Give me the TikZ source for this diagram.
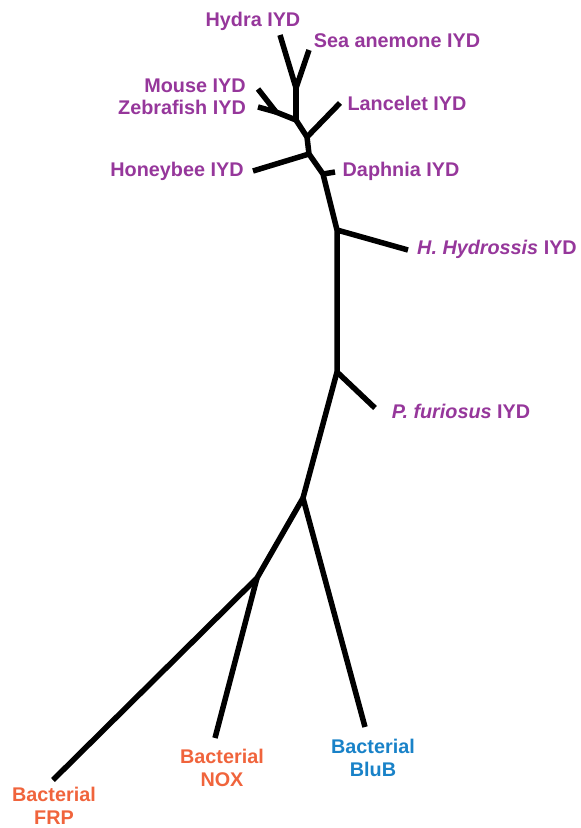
\documentclass[tikz,border=0pt]{standalone}
\usepackage{fontspec}
\setmainfont{Liberation Sans}
\definecolor{lblpurple}{RGB}{150,55,155}
\definecolor{lblorange}{RGB}{240,100,60}
\definecolor{lblblue}{RGB}{25,130,200}
\tikzset{
  branch/.style={line width=5.5pt, black, line join=round},
  lbl/.style={font=\fontsize{19.8}{23}\selectfont\bfseries, inner sep=0pt, align=center},
  iyd/.style={lbl, text=lblpurple},
  bact/.style={lbl, text=lblorange},
  bluc/.style={lbl, text=lblblue}
}
\begin{document}
\begin{tikzpicture}[x=1pt,y=-1pt]
\useasboundingbox (0,0) rectangle (581,828);
% junctions
\coordinate (jhs) at (296,88);
\coordinate (jmz) at (276,112);
\coordinate (jv) at (296,120);
\coordinate (jl) at (307,137);
\coordinate (jh) at (309,154);
\coordinate (jd) at (323,174);
\coordinate (jhy) at (337,230);
\coordinate (jp) at (337,372);
\coordinate (jb) at (303,498);
\coordinate (jn) at (257,578);
% tips
\coordinate (thydra) at (280,35);
\coordinate (tsea) at (309,50);
\coordinate (tmouse) at (258,89);
\coordinate (tzebra) at (258,107);
\coordinate (tlance) at (340,103);
\coordinate (thoney) at (253,171);
\coordinate (tdaph) at (335,172);
\coordinate (thyd) at (408,250);
\coordinate (tpfu) at (375,408);
\coordinate (tblub) at (365,727);
\coordinate (tfrp) at (53,780);
\coordinate (tnox) at (215,738);
% branches
\draw[branch] (thydra) -- (jhs) -- (tsea);
\draw[branch] (jhs) -- (jv);
\draw[branch] (tmouse) -- (jmz) -- (jv);
\draw[branch] (tzebra) -- (jmz);
\draw[branch] (jv) -- (jl) -- (jh) -- (jd) -- (jhy) -- (jp) -- (jb);
\draw[branch] (jl) -- (tlance);
\draw[branch] (jh) -- (thoney);
\draw[branch] (jd) -- (tdaph);
\draw[branch] (jhy) -- (thyd);
\draw[branch] (jp) -- (tpfu);
\draw[branch] (jb) -- (tblub);
\draw[branch] (jb) -- (jn) -- (tfrp);
\draw[branch] (jn) -- (tnox);
% labels
\node[iyd] (lhydra) at (253,21) {Hydra IYD};
\node[iyd] (lsea) at (397,41) {Sea anemone IYD};
\node[iyd] (lmouse) at (195,86) {Mouse IYD};
\node[iyd] (lzebra) at (182,107) {Zebrafish IYD};
\node[iyd] (llance) at (407,103) {Lancelet IYD};
\node[iyd] (lhoney) at (177,171) {Honeybee IYD};
\node[iyd] (ldaph) at (401,171) {Daphnia IYD};
\node[iyd] (lhyd) at (497,249) {\itshape H. Hydrossis\upshape{} IYD};
\node[iyd] (lpfu) at (461,411) {\itshape P. furiosus\upshape{} IYD};
\node[bact] (lfrp) at (54,806) {Bacterial\\FRP};
\node[bact] (lnox) at (222,768) {Bacterial\\NOX};
\node[bluc] (lblub) at (373,758) {Bacterial\\BluB};
\end{tikzpicture}
\end{document}
